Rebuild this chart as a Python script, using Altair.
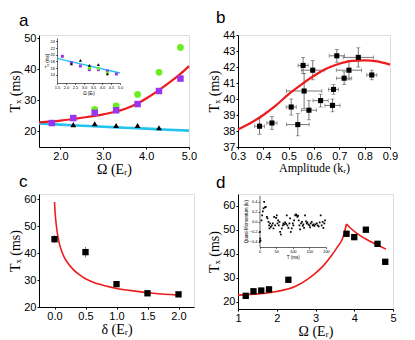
import altair as alt
import pandas as pd

SANS = "Liberation Sans"
SERIF = "Liberation Serif"
RED = "#ee1c1c"
CYAN = "#22c4ee"
PURPLE = "#9a34ee"
GREEN = "#6aee22"
GREY = "#555555"

# ---------------- panel a ----------------
a_red_x = [1.5, 2.0, 2.5, 3.0, 3.5, 3.8, 4.0, 4.3, 4.6, 4.8, 5.0]
a_red_y = [22.9, 23.5, 24.4, 25.5, 27.2, 29.0, 30.6, 33.3, 36.3, 38.5, 41.0]
a_cyan_x = [1.5, 2.0, 2.5, 3.0, 3.5, 4.0, 4.5, 5.0]
a_cyan_y = [22.6, 22.2, 21.85, 21.5, 21.2, 20.9, 20.55, 20.25]
a_sq_x = [1.8, 2.3, 2.8, 3.3, 3.8, 4.3, 4.8]
a_sq_y = [22.7, 24.3, 26.0, 26.8, 28.8, 33.0, 37.0]
a_ci_x = [2.8, 3.3, 3.8, 4.3, 4.8]
a_ci_y = [27.1, 28.2, 31.9, 39.0, 47.0]
a_ci_err = [0.5, 0.6, 0.6, 0.9, 1.2]
a_tr_x = [2.3, 2.8, 3.3, 3.8, 4.3]
a_tr_y = [22.2, 22.5, 21.9, 21.9, 21.2]

# inset of panel a
ia_line_x = [1.5, 5.0]
ia_line_y = [18.9, 14.5]
ia_sq_x = [1.8, 2.3, 2.8, 3.3, 3.8, 4.3, 4.8]
ia_sq_y = [19.5, 17.6, 16.6, 15.5, 15.5, 15.1, 14.2]
ia_tr_x = [2.3, 2.8, 3.3, 3.8, 4.3]
ia_tr_y = [17.2, 18.3, 16.8, 17.0, 14.2]
ia_ci_x = [3.3, 3.8, 4.3]
ia_ci_y = [16.0, 15.9, 14.5]

# ---------------- panel b ----------------
b_fit_x = [0.3, 0.35, 0.4, 0.45, 0.5, 0.55, 0.6, 0.65, 0.7, 0.75, 0.8, 0.85, 0.9]
b_fit_y = [38.1, 38.5, 39.0, 39.6, 40.3, 40.9, 41.45, 41.9, 42.2, 42.38, 42.42, 42.35, 42.15]
b_x = [0.385, 0.434, 0.536, 0.51, 0.58, 0.626, 0.561, 0.557, 0.595, 0.677, 0.673, 0.719, 0.69, 0.738, 0.775, 0.828]
b_y = [38.3, 38.5, 38.4, 39.5, 39.3, 39.9, 40.5, 42.1, 41.8, 40.6, 39.6, 41.3, 42.7, 41.8, 42.6, 41.5]
b_xerr = [0.02, 0.02, 0.045, 0.02, 0.03, 0.03, 0.07, 0.02, 0.045, 0.02, 0.03, 0.03, 0.03, 0.05, 0.06, 0.02]
b_yerr = [0.5, 0.4, 0.7, 0.5, 0.6, 0.4, 1.1, 0.5, 0.6, 0.3, 0.4, 0.4, 0.4, 0.6, 0.6, 0.3]

# ---------------- panel c ----------------
c_fit_x = [0.0, 0.01, 0.03, 0.06, 0.1, 0.15, 0.2, 0.3, 0.4, 0.5, 0.7, 1.0, 1.3, 1.6, 2.0]
c_fit_y = [59.0, 55.0, 50.2, 45.5, 41.8, 38.8, 36.8, 34.0, 32.0, 30.5, 28.6, 26.9, 25.9, 25.1, 24.4]
c_x = [0.0, 0.5, 1.0, 1.5, 2.0]
c_y = [45.2, 40.4, 28.5, 25.1, 24.7]
c_err = [1.5, 1.9, 0.6, 0.5, 0.4]

# ---------------- panel d ----------------
d_fit1_x = [1.0, 1.5, 2.0, 2.5, 2.8, 3.0, 3.2, 3.4, 3.55, 3.7, 3.8]
d_fit1_y = [22.8, 23.3, 24.3, 26.6, 29.5, 32.0, 35.0, 39.0, 42.5, 46.5, 52.5]
d_fit2_x = [3.8, 3.9, 4.05, 4.3, 4.6, 4.82]
d_fit2_y = [52.5, 50.8, 48.8, 46.2, 43.7, 42.0]
d_x = [1.2, 1.4, 1.6, 1.8, 2.3, 3.8, 4.0, 4.3, 4.6, 4.8]
d_y = [22.5, 24.4, 24.7, 25.2, 29.2, 48.4, 47.0, 50.1, 44.2, 36.7]

# inset of panel d
id_T = [1, 2, 3, 1, 6, 8, 10, 12, 14, 16, 19, 22, 24, 27, 29, 32, 30, 34, 37, 40, 42, 44, 47,
        50, 52, 54, 56, 58, 60, 62, 64, 67, 70, 72, 74, 77, 80, 82, 84, 87, 90, 92, 94, 97, 100,
        102, 104, 107, 110, 112, 114, 116, 118, 120, 122, 125, 128, 130, 132, 134, 137, 140, 142,
        144, 147, 150, 152, 154, 157, 160, 162, 165, 168, 172, 175, 178, 181, 184, 187, 190, 192,
        195, 197]
id_q = [-0.39, -0.33, -0.37, -0.20, 0.03, 0.13, 0.21, 0.27, 0.40, 0.29, 0.30, 0.10, 0.07, 0.0,
        -0.07, -0.03, -0.13, -0.10, -0.07, -0.03, -0.13, 0.10, -0.07, 0.08, 0.13, -0.03, 0.03,
        -0.07, 0.0, -0.20, -0.25, -0.13, -0.07, -0.03, -0.05, -0.01, -0.04, 0.13, -0.07, -0.12,
        -0.03, 0.07, -0.20, -0.13, -0.03, -0.07, 0.03, 0.13, 0.15, 0.13, 0.10, 0.12, 0.03, -0.07,
        -0.15, -0.03, 0.0, -0.08, -0.05, -0.12, 0.13, 0.01, -0.03, -0.01, -0.05, -0.07, -0.11,
        -0.03, 0.0, -0.07, -0.05, -0.08, -0.05, -0.03, -0.07, -0.09, -0.01, 0.13, -0.07, 0.0,
        -0.12, -0.03, 0.03]


def df(x, y, **extra):
    d = pd.DataFrame({"x": x, "y": y})
    for k, v in extra.items():
        d[k] = v
    return d


def ax(title, values, fmt, tsize=14):
    return alt.Axis(title=title, values=values, format=fmt, grid=False,
                    domainColor="black", domainWidth=1, tickColor="black", tickWidth=1,
                    tickSize=2, labelFont=SANS, labelFontSize=11, labelColor="black",
                    labelPadding=1, labelFlush=False, labelOverlap=False,
                    titleFont=SERIF, titleFontSize=tsize, titleFontWeight="normal",
                    titleColor="black", titlePadding=1)


def iax(title, values, fmt, orient, offset):
    return alt.Axis(title=title, values=values, format=fmt, orient=orient, offset=offset,
                    grid=False, domainColor="black", domainWidth=0.6, tickColor="black",
                    tickWidth=0.6, tickSize=1.5, labelFont=SANS, labelFontSize=4,
                    labelColor="black", labelPadding=1, labelFlush=False, labelOverlap=False,
                    titleFont=SANS, titleFontSize=4.5, titleFontWeight="normal",
                    titleColor="black", titlePadding=1)


def ptitle(t, dx):
    return alt.TitleParams(text=t, anchor="start", frame="group", dx=dx, fontSize=17,
                           font=SANS, fontWeight="normal", color="black", offset=2)


def sc(dom, rng=None):
    if rng is None:
        return alt.Scale(domain=dom, nice=False, zero=False)
    return alt.Scale(domain=dom, range=rng, nice=False, zero=False)


def enc_x(field, scale, axis):
    return alt.X(f"{field}:Q", scale=scale, axis=axis)


def enc_y(field, scale, axis):
    return alt.Y(f"{field}:Q", scale=scale, axis=axis)


# ---------- panel a ----------
AW, AH = 150, 112
a_xs, a_ys = sc([1.5, 5.0]), sc([15, 51])
a_xa = ax("Ω (Eᵣ)", [2, 3, 4, 5], ".1f")
a_ya = ax("Tₓ (ms)", [20, 30, 40, 50], "d")
ax_a = enc_x("x", a_xs, a_xa)
ay_a = enc_y("y", a_ys, a_ya)
ci = df(a_ci_x, a_ci_y, err=a_ci_err)
ci["lo"] = ci["y"] - ci["err"]
ci["hi"] = ci["y"] + ci["err"]
a_main = alt.layer(
    alt.Chart(df(a_cyan_x, a_cyan_y)).mark_line(color=CYAN, strokeWidth=2.6, interpolate="monotone").encode(x=ax_a, y=ay_a),
    alt.Chart(df(a_red_x, a_red_y)).mark_line(color=RED, strokeWidth=2.2, interpolate="monotone").encode(x=ax_a, y=ay_a),
    alt.Chart(ci).mark_rule(color=GREEN, strokeWidth=1).encode(x=ax_a, y=enc_y("lo", a_ys, a_ya), y2="hi:Q"),
    alt.Chart(ci).mark_circle(color=GREEN, size=46, opacity=1).encode(x=ax_a, y=ay_a),
    alt.Chart(df(a_sq_x, a_sq_y)).mark_square(color=PURPLE, size=42, opacity=1).encode(x=ax_a, y=ay_a),
    alt.Chart(df(a_tr_x, a_tr_y)).mark_point(shape="triangle-up", filled=True, color="black", size=34, opacity=1).encode(x=ax_a, y=ay_a),
)
ix_a = alt.X("x:Q", scale=sc([1.5, 5.0], [18, 81]),
             axis=iax("Ω (Eᵣ)", [1.5, 2.0, 2.5, 3.0, 3.5, 4.0, 4.5, 5.0], ".1f", "bottom", -(AH - 48)))
iy_a = alt.Y("y:Q", scale=sc([11.5, 25], [48, 3]),
             axis=iax("Tₓ (ms)", [14, 16, 18, 20, 22, 24], "d", "left", -18))
a_inset = alt.layer(
    alt.Chart(df(ia_line_x, ia_line_y)).mark_line(color=CYAN, strokeWidth=1.4).encode(x=ix_a, y=iy_a),
    alt.Chart(df(ia_sq_x, ia_sq_y)).mark_square(color=PURPLE, size=9, opacity=1).encode(x=ix_a, y=iy_a),
    alt.Chart(df(ia_ci_x, ia_ci_y)).mark_square(color=GREEN, size=9, opacity=1).encode(x=ix_a, y=iy_a),
    alt.Chart(df(ia_tr_x, ia_tr_y)).mark_point(shape="triangle-up", filled=True, color="black", size=10, opacity=1).encode(x=ix_a, y=iy_a),
)
panel_a = alt.layer(a_main, a_inset).resolve_scale(x="independent", y="independent").properties(
    width=AW, height=AH, title=ptitle("a", -20))

# ---------- panel b ----------
BW, BH = 152, 112
b_xs, b_ys = sc([0.3, 0.9]), sc([37, 44])
b_xa = ax("Amplitude (kᵣ)", [0.3, 0.4, 0.5, 0.6, 0.7, 0.8, 0.9], ".1f", 12)
b_ya = ax("Tₓ (ms)", [37, 38, 39, 40, 41, 42, 43, 44], "d")
bx = enc_x("x", b_xs, b_xa)
by = enc_y("y", b_ys, b_ya)
bd = df(b_x, b_y, xerr=b_xerr, yerr=b_yerr)
bd["xlo"] = bd["x"] - bd["xerr"]
bd["xhi"] = bd["x"] + bd["xerr"]
bd["ylo"] = bd["y"] - bd["yerr"]
bd["yhi"] = bd["y"] + bd["yerr"]
panel_b = alt.layer(
    alt.Chart(bd).mark_rule(color=GREY, strokeWidth=0.8).encode(x=enc_x("xlo", b_xs, b_xa), x2="xhi:Q", y=by),
    alt.Chart(bd).mark_rule(color=GREY, strokeWidth=0.8).encode(x=bx, y=enc_y("ylo", b_ys, b_ya), y2="yhi:Q"),
    alt.Chart(bd).mark_tick(color=GREY, orient="horizontal", size=4, thickness=0.8).encode(x=bx, y=enc_y("ylo", b_ys, b_ya)),
    alt.Chart(bd).mark_tick(color=GREY, orient="horizontal", size=4, thickness=0.8).encode(x=bx, y=enc_y("yhi", b_ys, b_ya)),
    alt.Chart(bd).mark_tick(color=GREY, orient="vertical", size=4, thickness=0.8).encode(x=enc_x("xlo", b_xs, b_xa), y=by),
    alt.Chart(bd).mark_tick(color=GREY, orient="vertical", size=4, thickness=0.8).encode(x=enc_x("xhi", b_xs, b_xa), y=by),
    alt.Chart(df(b_fit_x, b_fit_y)).mark_line(color=RED, strokeWidth=2.2, interpolate="monotone").encode(x=bx, y=by),
    alt.Chart(bd).mark_square(color="black", size=26, opacity=1).encode(x=bx, y=by),
).properties(width=BW, height=BH, title=ptitle("b", -22))

# ---------- panel c ----------
CW, CH = 155, 113
c_xs, c_ys = sc([-0.25, 2.25]), sc([20, 62])
c_xa = ax("δ (Eᵣ)", [0.0, 0.5, 1.0, 1.5, 2.0], ".1f")
c_ya = ax("Tₓ (ms)", [20, 30, 40, 50, 60], "d")
cx = enc_x("x", c_xs, c_xa)
cy = enc_y("y", c_ys, c_ya)
cd = df(c_x, c_y, err=c_err)
cd["lo"] = cd["y"] - cd["err"]
cd["hi"] = cd["y"] + cd["err"]
panel_c = alt.layer(
    alt.Chart(df(c_fit_x, c_fit_y)).mark_line(color=RED, strokeWidth=1.6, interpolate="monotone").encode(x=cx, y=cy),
    alt.Chart(cd).mark_rule(color=GREY, strokeWidth=0.8).encode(x=cx, y=enc_y("lo", c_ys, c_ya), y2="hi:Q"),
    alt.Chart(cd).mark_square(color="black", size=40, opacity=1).encode(x=cx, y=cy),
).properties(width=CW, height=CH, title=ptitle("c", -20))

# ---------- panel d ----------
DW, DH = 155, 115
dx_ = enc_x("x", sc([1, 5]), ax("Ω (Eᵣ)", [1, 2, 3, 4, 5], "d"))
dy_ = enc_y("y", sc([17, 65]), ax("Tₓ (ms)", [20, 30, 40, 50, 60], "d"))
dfit = pd.concat([df(d_fit1_x, d_fit1_y, seg="s1"), df(d_fit2_x, d_fit2_y, seg="s2")])
d_main = alt.layer(
    alt.Chart(dfit).mark_line(color=RED, strokeWidth=1.6, interpolate="monotone").encode(x=dx_, y=dy_, detail="seg:N"),
    alt.Chart(df(d_x, d_y)).mark_square(color="black", size=40, opacity=1).encode(x=dx_, y=dy_),
)
ix_d = alt.X("x:Q", scale=sc([0, 200], [21.5, 88]),
             axis=iax("T (ms)", [0, 50, 100, 150, 200], "d", "bottom", -(DH - 53)))
iy_d = alt.Y("y:Q", scale=sc([-0.5, 0.53], [53, 1.3]),
             axis=iax("Quasi-Momentum (kᵣ)", [-0.4, -0.2, 0.0, 0.2, 0.4], ".1f", "left", -21.5))
d_inset = alt.Chart(df(id_T, id_q)).mark_square(color="black", size=3, opacity=1).encode(x=ix_d, y=iy_d)
panel_d = alt.layer(d_main, d_inset).resolve_scale(x="independent", y="independent").properties(
    width=DW, height=DH, title=ptitle("d", -22))

chart = alt.concat(panel_a, panel_b, panel_c, panel_d, columns=2,
                   spacing={"row": 47, "column": 44}, bounds="flush").properties(
    padding={"left": 0, "top": 0, "right": 5, "bottom": 0}
).configure_view(stroke="transparent").configure(background="white")

chart.save("out.html", embed_options={"renderer": "svg", "actions": False})
